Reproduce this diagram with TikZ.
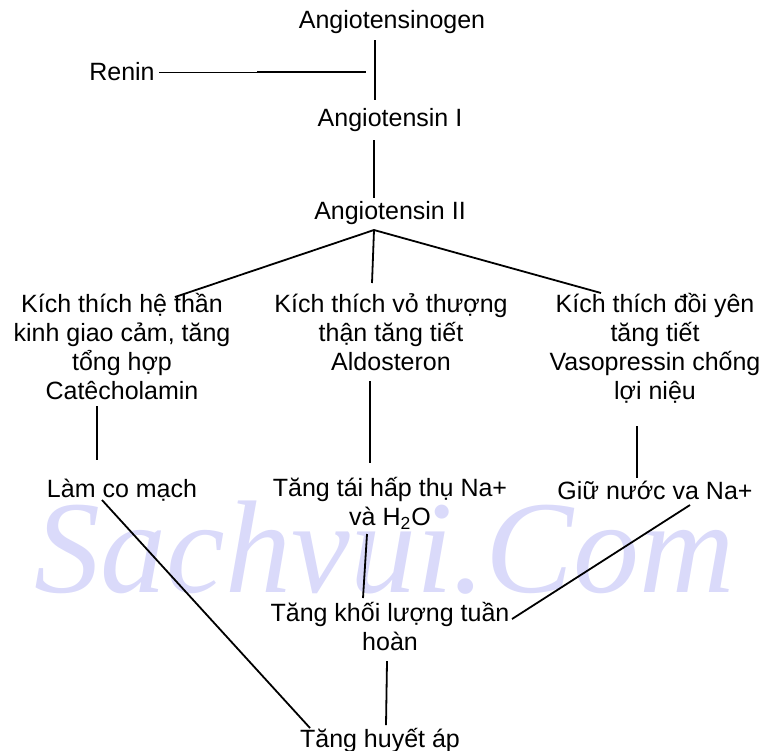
\documentclass[tikz,border=0pt]{standalone}
\usepackage{fontspec}
\setmainfont{Liberation Sans}
\newfontfamily\markfont{Liberation Serif}
\usetikzlibrary{calc}
\definecolor{markblue}{RGB}{218,218,250}
\tikzstyle{txt}=[inner sep=0pt, align=center, font=\fontsize{12.5}{14.5}\selectfont]
\tikzstyle{link}=[line width=0.9pt]

\begin{document}
\begin{tikzpicture}[x=0.5pt, y=-0.5pt]
	\useasboundingbox (0,0) rectangle (763,750);
	\node[markblue, inner sep=0pt, font=\markfont\itshape\fontsize{66}{66}\selectfont] (mark) at (385,548) {Sachvui.Com};
%
	\node[txt] (agen) at (392,22) {Angiotensinogen};
	\node[txt] (renin) at (122,72) {Renin};
	\node[txt] (ang1) at (390,120) {Angiotensin I};
	\node[txt] (ang2) at (390,213) {Angiotensin II};
%
	\node[txt, anchor=north] (kt1) at (122,293) {Kích thích hệ thần\\kinh giao cảm, tăng\\tổng hợp\\Catêcholamin};
	\node[txt, anchor=north] (kt2) at (391,293) {Kích thích vỏ thượng\\thận tăng tiết\\Aldosteron};
	\node[txt, anchor=north] (kt3) at (655,293) {Kích thích đồi yên\\tăng tiết\\Vasopressin chống\\lợi niệu};
%
	\node[txt] (lam) at (122,490) {Làm co mạch};
	\node[txt, anchor=north] (tang) at (390,477) {Tăng tái hấp thụ Na+\\và H\textsubscript{2}O};
	\node[txt] (giu) at (655,490) {Giữ nước va Na+};
	\node[txt, anchor=north] (khoi) at (390,602) {Tăng khối lượng tuần\\hoàn};
	\node[txt] (huyet) at (380,740) {Tăng huyết áp};
%
	\coordinate (rn) at ($(renin)+(244,0)$);
	\coordinate (fork) at ($(ang2)+(-16,17)$);
%
	\draw[link] ($(agen)+(-17,18)$) -- ($(ang1)+(-15,-20)$);
	\draw[line width=0.5pt] ($(renin.east)+(4,0)$) -- (rn);
	\draw[line width=1.2pt] ($(renin)+(135,0)$) -- (rn);
	\draw[link] ($(ang1)+(-16,20)$) -- ($(ang2)+(-16,-15)$);
%
	\draw[link] (fork) -- ($(kt1.north)+(53,4)$);
	\draw[link] (fork) -- ($(kt2.north)+(-19,-10)$);
	\draw[link] (fork) -- ($(kt3.north)+(-54,0)$);
%
	\draw[link] ($(kt1.north)+(-25,113)$) -- ($(lam)+(-25,-30)$);
	\draw[link] ($(kt2.north)+(-21,88)$) -- ($(tang.north)+(-20,-14)$);
	\draw[link] ($(kt3.north)+(-18,133)$) -- ($(giu)+(-18,-12)$);
%
	\draw[link] ($(lam)+(-20,10)$) -- ($(huyet)+(-70,-12)$);
	\draw[link] ($(tang.north)+(-23,57)$) -- ($(khoi.north)+(-27,-4)$);
	\draw[link] ($(giu)+(35,15)$) -- ($(khoi.north)+(122,17)$);
	\draw[link] ($(khoi.north)+(-3,59)$) -- ($(huyet)+(6,-15)$);
\end{tikzpicture}
\end{document}
